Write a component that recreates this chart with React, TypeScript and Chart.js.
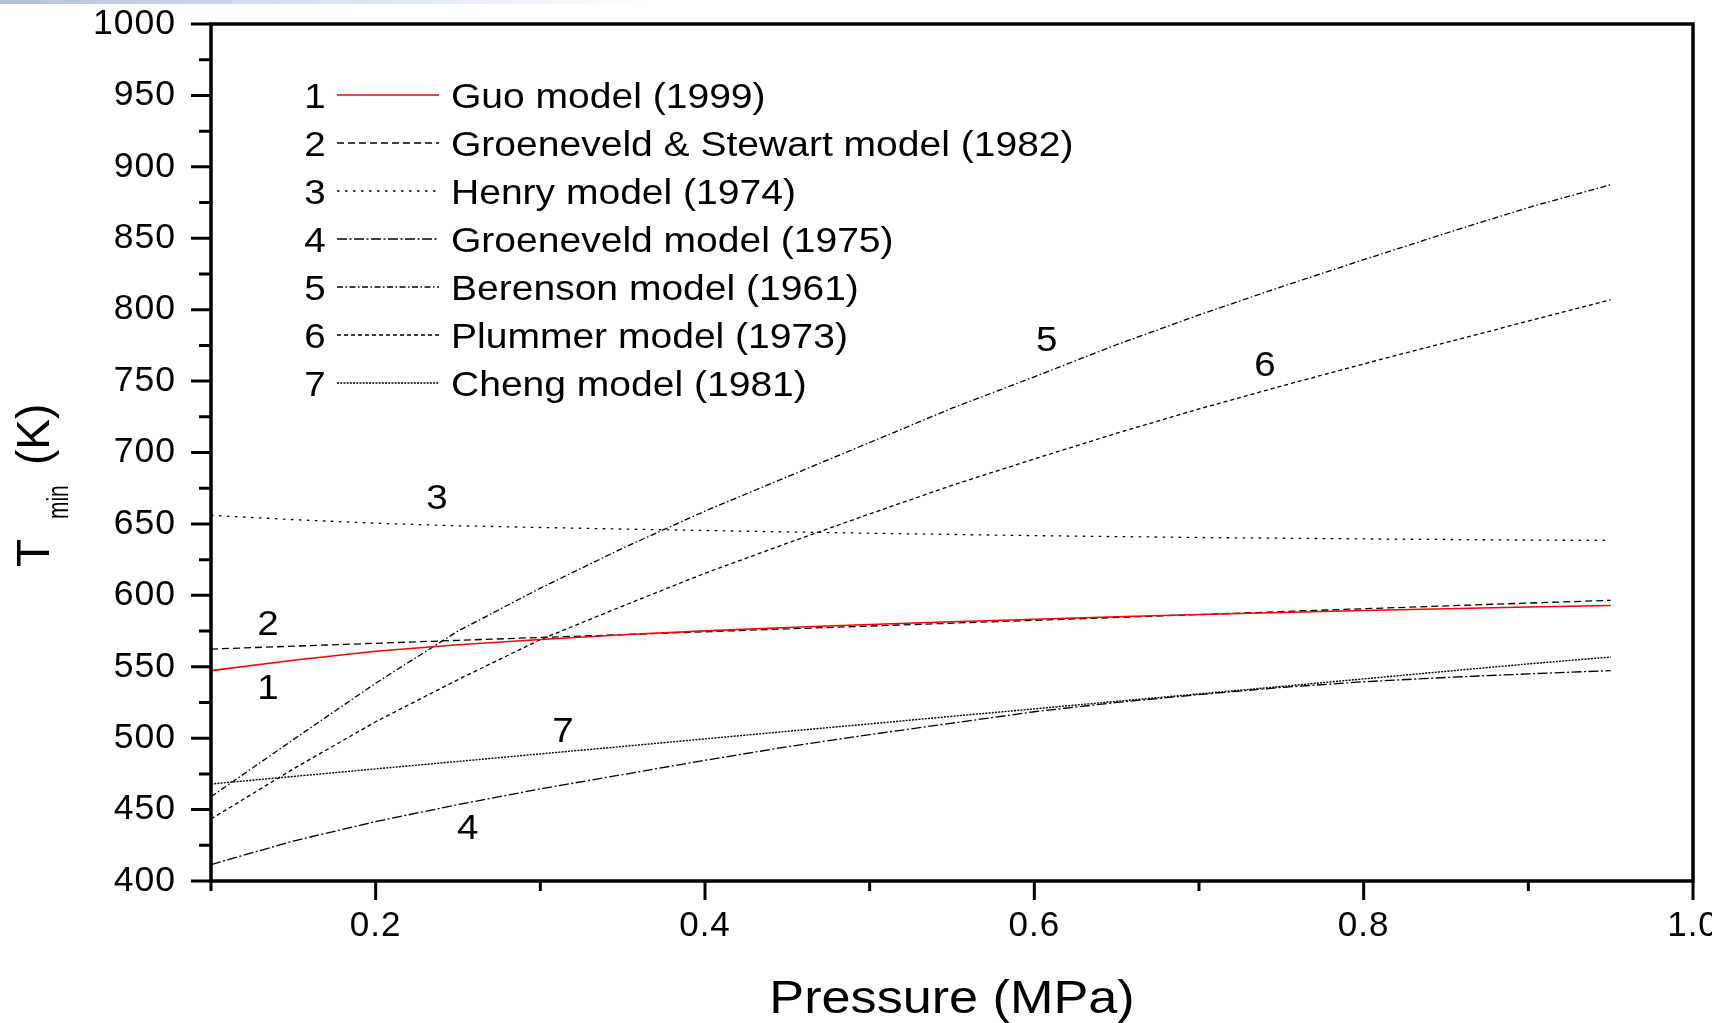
import React, { useEffect, useRef } from 'react';
import { Chart, registerables } from 'chart.js';

Chart.register(...registerables);

// Pressure grid (MPa) shared by every model curve
const pressure = [0.1, 0.15, 0.2, 0.25, 0.3, 0.35, 0.4, 0.45, 0.5, 0.55, 0.6, 0.65, 0.7, 0.75, 0.8, 0.85, 0.9, 0.95];

// Minimum film boiling temperature T_min (K) per model
const guo = [547.3, 554.6, 560.8, 565.4, 569.1, 572.4, 575.1, 577.5, 579.6, 581.5, 583.3, 585.0, 586.6, 588.0, 589.4, 590.6, 591.8, 592.9];
const groeneveldStewart = [562.4, 564.4, 566.4, 568.5, 570.5, 572.5, 574.5, 576.5, 578.5, 580.5, 582.5, 584.5, 586.5, 588.6, 590.6, 592.6, 594.6, 596.5];
const henry = [656.0, 653.0, 650.5, 648.7, 647.5, 646.4, 645.4, 644.4, 643.5, 642.6, 641.8, 641.1, 640.5, 640.0, 639.5, 639.1, 638.7, 638.4];
const groeneveld = [411.5, 428.0, 441.6, 453.5, 464.5, 474.5, 484.5, 494.0, 502.5, 510.5, 518.5, 525.0, 530.5, 535.5, 539.5, 542.5, 545.0, 547.3];
const berenson = [459.0, 499.0, 538.5, 575.0, 605.0, 633.0, 659.0, 683.0, 707.0, 731.0, 753.0, 775.5, 796.3, 816.0, 835.0, 853.5, 871.5, 887.5];
const plummer = [443.4, 478.5, 511.5, 541.0, 569.0, 592.5, 615.5, 636.5, 657.0, 677.0, 695.5, 713.5, 730.5, 746.5, 762.0, 777.0, 792.0, 807.0];
const cheng = [467.9, 473.2, 478.5, 483.7, 489.0, 494.2, 499.5, 504.8, 510.0, 515.3, 520.5, 525.8, 531.0, 536.2, 541.5, 546.8, 552.0, 556.8];

const seriesNames = [
  'Guo model (1999)',
  'Groeneveld & Stewart model (1982)',
  'Henry model (1974)',
  'Groeneveld model (1975)',
  'Berenson model (1961)',
  'Plummer model (1973)',
  'Cheng model (1981)',
];
const seriesValues = [guo, groeneveldStewart, henry, groeneveld, berenson, plummer, cheng];
const seriesColors = ['#ff0000', '#000000', '#000000', '#000000', '#000000', '#000000', '#000000'];
const seriesWidths = [1.6, 1.3, 1.3, 1.3, 1.3, 1.3, 1.4];
const seriesDashes: number[][] = [[], [7, 4], [2.5, 5.5], [10, 2.5, 2, 2.5], [6, 2.5, 1.5, 2.5], [4, 3], [2, 1.2]];

// Where each curve's number is written (pressure, temperature)
const curveLabelP = [0.1346, 0.1346, 0.2372, 0.2559, 0.6075, 0.7401, 0.3138];
const curveLabelT = [536.5, 581.3, 669.5, 438.5, 779.5, 762.0, 506.4];

// Axis ticks
const xMajorTicks = [0.2, 0.4, 0.6, 0.8, 1.0];
const xMinorTicks = [0.1, 0.3, 0.5, 0.7, 0.9];
const yMajorTicks = [400, 450, 500, 550, 600, 650, 700, 750, 800, 850, 900, 950, 1000];
const yMinorTicks = [425, 475, 525, 575, 625, 675, 725, 775, 825, 875, 925, 975];

const FONT = '"Liberation Sans", Arial, sans-serif';
const CANVAS_W = 1760;
const CANVAS_H = 1023;
const AREA_LEFT = 211;
const AREA_RIGHT = 1693;
const AREA_TOP = 24;
const AREA_BOTTOM = 881;

function stretchedText(
  ctx: CanvasRenderingContext2D,
  text: string,
  x: number,
  y: number,
  size: number,
  align: CanvasTextAlign,
  sx: number
) {
  ctx.save();
  ctx.translate(x, y);
  ctx.scale(sx, 1);
  ctx.font = `${size}px ${FONT}`;
  ctx.textAlign = align;
  ctx.textBaseline = 'alphabetic';
  ctx.fillStyle = '#000';
  ctx.fillText(text, 0, 0);
  ctx.restore();
}

// Keep the plot area fixed: no extra room for tick-label overhang
function zeroPadding(s: any) {
  s.paddingTop = 0;
  s.paddingBottom = 0;
  s.paddingLeft = 0;
  s.paddingRight = 0;
}

const decorPlugin = {
  id: 'decor',
  beforeDraw(chart: any) {
    (chart.ctx as any).letterSpacing = '1px';
  },
  afterDraw(chart: any) {
    const ctx: CanvasRenderingContext2D = chart.ctx;
    (ctx as any).letterSpacing = '0px';
    const xs = chart.scales.x;
    const ys = chart.scales.y;
    const { left, right, top, bottom } = chart.chartArea;

    ctx.save();
    // frame
    ctx.strokeStyle = '#000';
    ctx.lineWidth = 3.5;
    ctx.setLineDash([]);
    ctx.strokeRect(left, top, right - left, bottom - top);

    // outward tick marks
    ctx.lineWidth = 3;
    ctx.beginPath();
    yMajorTicks.forEach((v) => {
      const py = ys.getPixelForValue(v);
      ctx.moveTo(left - 20, py);
      ctx.lineTo(left, py);
    });
    yMinorTicks.forEach((v) => {
      const py = ys.getPixelForValue(v);
      ctx.moveTo(left - 12, py);
      ctx.lineTo(left, py);
    });
    xMajorTicks.forEach((v) => {
      const px = xs.getPixelForValue(v);
      ctx.moveTo(px, bottom);
      ctx.lineTo(px, bottom + 19);
    });
    xMinorTicks.forEach((v) => {
      const px = xs.getPixelForValue(v);
      ctx.moveTo(px, bottom);
      ctx.lineTo(px, bottom + 10);
    });
    ctx.stroke();

    // legend: number, line sample, name
    const datasets = chart.data.datasets;
    seriesNames.forEach((name, i) => {
      const rowY = 95 + 48 * i;
      stretchedText(ctx, String(i + 1), 315, rowY + 12.5, 35, 'center', 1.1);
      ctx.save();
      ctx.strokeStyle = datasets[i].borderColor;
      ctx.lineWidth = datasets[i].borderWidth;
      ctx.setLineDash(datasets[i].borderDash);
      ctx.beginPath();
      ctx.moveTo(337, rowY);
      ctx.lineTo(439, rowY);
      ctx.stroke();
      ctx.restore();
      stretchedText(ctx, name, 451, rowY + 12.5, 35, 'left', 1.115);
    });

    // curve numbers
    curveLabelP.forEach((p, i) => {
      const px = xs.getPixelForValue(p);
      const py = ys.getPixelForValue(curveLabelT[i]);
      stretchedText(ctx, String(i + 1), px, py + 12.5, 35, 'center', 1.1);
    });

    // x-axis title
    stretchedText(ctx, 'Pressure (MPa)', (left + right) / 2, 1013, 47, 'center', 1.11);

    // y-axis title: T_min (K), rotated
    ctx.save();
    ctx.translate(49, 567);
    ctx.rotate(-Math.PI / 2);
    ctx.fillStyle = '#000';
    ctx.textBaseline = 'alphabetic';
    ctx.textAlign = 'left';
    ctx.font = `46px ${FONT}`;
    ctx.fillText('T', 0, 0);
    ctx.save();
    ctx.translate(48, 19);
    ctx.scale(0.72, 1);
    ctx.font = `29px ${FONT}`;
    ctx.fillText('min', 0, 0);
    ctx.restore();
    ctx.font = `46px ${FONT}`;
    ctx.fillText('(K)', 102, 0);
    ctx.restore();

    ctx.restore();
  },
};

export default function App() {
  const canvasRef = useRef<HTMLCanvasElement | null>(null);

  useEffect(() => {
    const canvas = canvasRef.current;
    if (!canvas) return;
    const chart = new Chart(canvas, {
      type: 'line',
      data: {
        datasets: seriesValues.map((vals, i) => ({
          label: seriesNames[i],
          data: pressure.map((p, k) => ({ x: p, y: vals[k] })),
          borderColor: seriesColors[i],
          borderWidth: seriesWidths[i],
          borderDash: seriesDashes[i],
          pointRadius: 0,
          fill: false,
          tension: 0,
        })),
      },
      options: {
        responsive: false,
        devicePixelRatio: 1,
        animation: false,
        events: [],
        layout: {
          padding: { left: 0, top: AREA_TOP, right: CANVAS_W - AREA_RIGHT, bottom: 0 },
        },
        plugins: {
          legend: { display: false },
          tooltip: { enabled: false },
        },
        scales: {
          x: {
            type: 'linear',
            position: 'bottom',
            min: 0.1,
            max: 1.0,
            grid: { display: false, drawTicks: false },
            border: { display: false },
            ticks: {
              padding: 24,
              color: '#000',
              font: { family: FONT, size: 35 },
              maxRotation: 0,
              autoSkip: false,
              callback: (v: any) => Number(v).toFixed(1),
            },
            afterBuildTicks: (s: any) => {
              s.ticks = xMajorTicks.map((value) => ({ value }));
            },
            afterFit: (s: any) => {
              s.height = CANVAS_H - AREA_BOTTOM;
              zeroPadding(s);
            },
          },
          y: {
            type: 'linear',
            position: 'left',
            min: 400,
            max: 1000,
            grid: { display: false, drawTicks: false },
            border: { display: false },
            ticks: {
              padding: 35,
              color: '#000',
              font: { family: FONT, size: 35.5 },
              autoSkip: false,
              callback: (v: any) => String(v),
            },
            afterBuildTicks: (s: any) => {
              s.ticks = yMajorTicks.map((value) => ({ value }));
            },
            afterFit: (s: any) => {
              s.width = AREA_LEFT;
              zeroPadding(s);
            },
          },
        },
      },
      plugins: [decorPlugin],
    } as any);
    return () => chart.destroy();
  }, []);

  return (
    <div
      style={{
        position: 'absolute',
        left: 0,
        top: 0,
        width: 1712,
        height: CANVAS_H,
        overflow: 'hidden',
        background: '#ffffff',
      }}
    >
      <div
        style={{
          position: 'absolute',
          left: 0,
          top: 0,
          width: 650,
          height: 4,
          background: 'linear-gradient(to right, #b4c0dc, rgba(255,255,255,0))',
          zIndex: 1,
        }}
      />
      <canvas
        ref={canvasRef}
        width={CANVAS_W}
        height={CANVAS_H}
        style={{ display: 'block', width: CANVAS_W, height: CANVAS_H }}
      />
    </div>
  );
}
